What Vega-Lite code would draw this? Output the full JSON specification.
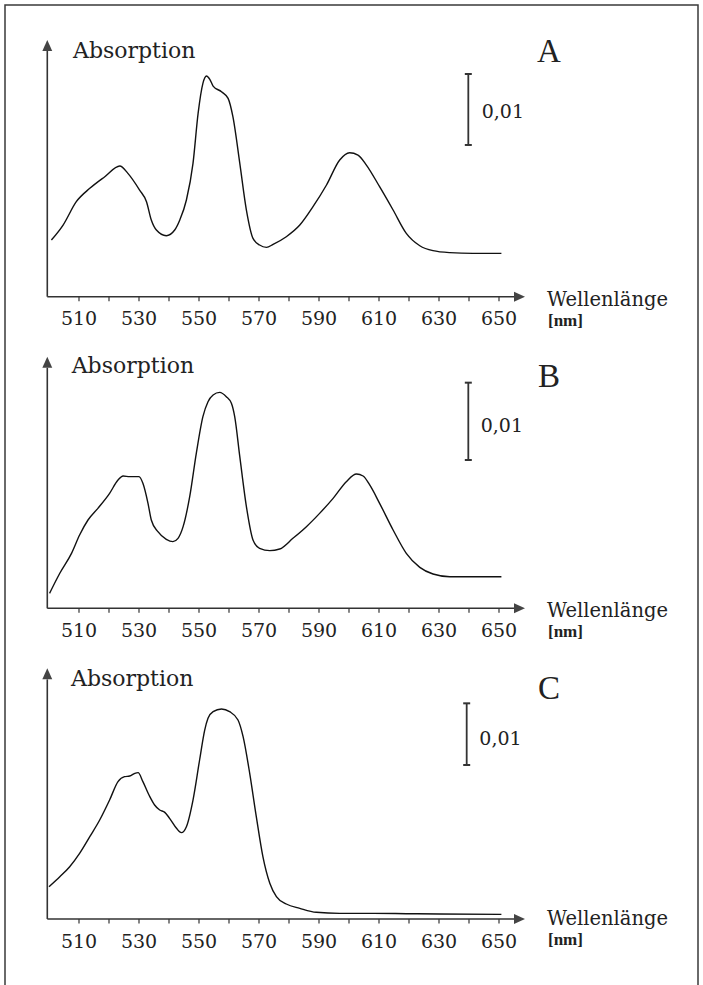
{
  "$schema": "https://vega.github.io/schema/vega-lite/v6.json",
  "autosize": {"type": "fit", "contains": "padding"},
  "width": 703,
  "height": 985,
  "padding": {"left": 5, "top": 5, "right": 5, "bottom": -2},
  "background": "white",
  "config": {
    "view": {"stroke": "#3a3a3a", "strokeWidth": 1.5},
    "text": {"font": "DejaVu Serif", "color": "#222"}
  },
  "datasets": {
    "specA": [
      {"nm": 500.8, "abs": 0.00798}, {"nm": 504.7, "abs": 0.01009}, {"nm": 509.1, "abs": 0.01338},
      {"nm": 513.6, "abs": 0.01526}, {"nm": 518.6, "abs": 0.0169}, {"nm": 523.6, "abs": 0.0184},
      {"nm": 526.3, "abs": 0.01737}, {"nm": 530.2, "abs": 0.01502}, {"nm": 532.5, "abs": 0.01338},
      {"nm": 534.1, "abs": 0.0108}, {"nm": 535.8, "abs": 0.00939}, {"nm": 539.1, "abs": 0.00859},
      {"nm": 541.9, "abs": 0.00939}, {"nm": 543.6, "abs": 0.0108}, {"nm": 545.8, "abs": 0.01362},
      {"nm": 548.0, "abs": 0.01878}, {"nm": 549.7, "abs": 0.02582}, {"nm": 551.3, "abs": 0.03005},
      {"nm": 552.5, "abs": 0.03108}, {"nm": 553.6, "abs": 0.03061}, {"nm": 554.7, "abs": 0.02967},
      {"nm": 557.5, "abs": 0.02887}, {"nm": 559.7, "abs": 0.02793}, {"nm": 561.3, "abs": 0.02535},
      {"nm": 563.6, "abs": 0.01878}, {"nm": 565.8, "abs": 0.01221}, {"nm": 568.0, "abs": 0.00822},
      {"nm": 570.2, "abs": 0.00728}, {"nm": 572.5, "abs": 0.00695}, {"nm": 574.7, "abs": 0.00737},
      {"nm": 579.1, "abs": 0.00845}, {"nm": 583.6, "abs": 0.01009}, {"nm": 588.0, "abs": 0.01268},
      {"nm": 592.5, "abs": 0.01573}, {"nm": 596.9, "abs": 0.01925}, {"nm": 600.2, "abs": 0.02028},
      {"nm": 603.0, "abs": 0.01995}, {"nm": 605.8, "abs": 0.01854}, {"nm": 610.2, "abs": 0.01549},
      {"nm": 614.7, "abs": 0.01221}, {"nm": 619.1, "abs": 0.00892}, {"nm": 623.6, "abs": 0.00718},
      {"nm": 628.0, "abs": 0.00648}, {"nm": 633.6, "abs": 0.0062}, {"nm": 641.3, "abs": 0.0061},
      {"nm": 650.8, "abs": 0.0061}
    ],
    "specB": [
      {"nm": 500.2, "abs": 0.00194}, {"nm": 503.6, "abs": 0.00453}, {"nm": 507.5, "abs": 0.00711},
      {"nm": 510.2, "abs": 0.00948}, {"nm": 513.0, "abs": 0.01142}, {"nm": 516.3, "abs": 0.01293},
      {"nm": 520.2, "abs": 0.01487}, {"nm": 523.0, "abs": 0.01659}, {"nm": 524.7, "abs": 0.01711},
      {"nm": 526.9, "abs": 0.01703}, {"nm": 530.0, "abs": 0.01703}, {"nm": 531.3, "abs": 0.01616},
      {"nm": 533.0, "abs": 0.01358}, {"nm": 534.1, "abs": 0.01142}, {"nm": 536.3, "abs": 0.00991},
      {"nm": 539.1, "abs": 0.00892}, {"nm": 541.3, "abs": 0.00862}, {"nm": 543.0, "abs": 0.00905},
      {"nm": 544.7, "abs": 0.01056}, {"nm": 546.9, "abs": 0.01444}, {"nm": 549.1, "abs": 0.02004},
      {"nm": 551.3, "abs": 0.02478}, {"nm": 553.0, "abs": 0.02672}, {"nm": 554.7, "abs": 0.02759},
      {"nm": 556.9, "abs": 0.02793}, {"nm": 559.1, "abs": 0.02737}, {"nm": 560.8, "abs": 0.02651},
      {"nm": 561.9, "abs": 0.02478}, {"nm": 563.6, "abs": 0.01961}, {"nm": 565.8, "abs": 0.01315},
      {"nm": 568.0, "abs": 0.00884}, {"nm": 570.2, "abs": 0.00776}, {"nm": 573.6, "abs": 0.00746},
      {"nm": 576.9, "abs": 0.00767}, {"nm": 581.3, "abs": 0.00905}, {"nm": 585.8, "abs": 0.01056},
      {"nm": 590.2, "abs": 0.01228}, {"nm": 594.7, "abs": 0.01422}, {"nm": 599.1, "abs": 0.01638},
      {"nm": 602.5, "abs": 0.01737}, {"nm": 604.7, "abs": 0.01711}, {"nm": 606.9, "abs": 0.01595},
      {"nm": 610.2, "abs": 0.01358}, {"nm": 614.7, "abs": 0.01013}, {"nm": 619.1, "abs": 0.00711},
      {"nm": 623.6, "abs": 0.0053}, {"nm": 628.0, "abs": 0.00444}, {"nm": 633.6, "abs": 0.00409},
      {"nm": 641.3, "abs": 0.00409}, {"nm": 650.8, "abs": 0.00409}
    ],
    "specC": [
      {"nm": 500.0, "abs": 0.00524}, {"nm": 503.6, "abs": 0.00686}, {"nm": 506.9, "abs": 0.00848},
      {"nm": 510.2, "abs": 0.01064}, {"nm": 513.6, "abs": 0.01335}, {"nm": 516.9, "abs": 0.01605},
      {"nm": 520.2, "abs": 0.01929}, {"nm": 523.0, "abs": 0.02227}, {"nm": 525.2, "abs": 0.02308},
      {"nm": 526.9, "abs": 0.02318}, {"nm": 528.6, "abs": 0.02362}, {"nm": 529.7, "abs": 0.02373},
      {"nm": 531.3, "abs": 0.02227}, {"nm": 533.6, "abs": 0.01983}, {"nm": 535.2, "abs": 0.01848},
      {"nm": 536.9, "abs": 0.01767}, {"nm": 538.6, "abs": 0.01729}, {"nm": 540.2, "abs": 0.01632},
      {"nm": 542.5, "abs": 0.0147}, {"nm": 544.1, "abs": 0.014}, {"nm": 545.8, "abs": 0.01497},
      {"nm": 548.0, "abs": 0.01929}, {"nm": 550.2, "abs": 0.02578}, {"nm": 551.9, "abs": 0.03064},
      {"nm": 553.0, "abs": 0.03254}, {"nm": 554.7, "abs": 0.03362}, {"nm": 557.5, "abs": 0.03405},
      {"nm": 560.2, "abs": 0.03362}, {"nm": 563.0, "abs": 0.03227}, {"nm": 564.7, "abs": 0.02956},
      {"nm": 566.9, "abs": 0.02362}, {"nm": 569.1, "abs": 0.01659}, {"nm": 571.3, "abs": 0.0101},
      {"nm": 573.6, "abs": 0.00578}, {"nm": 575.8, "abs": 0.00362}, {"nm": 579.1, "abs": 0.00243},
      {"nm": 583.6, "abs": 0.00173}, {"nm": 589.1, "abs": 0.00108}, {"nm": 596.9, "abs": 0.00091},
      {"nm": 608.0, "abs": 0.00091}, {"nm": 619.1, "abs": 0.00086}, {"nm": 630.2, "abs": 0.00081},
      {"nm": 650.8, "abs": 0.00075}
    ],
    "ticks": [
      {"nm": 510}, {"nm": 520}, {"nm": 530}, {"nm": 540}, {"nm": 550}, {"nm": 560}, {"nm": 570},
      {"nm": 580}, {"nm": 590}, {"nm": 600}, {"nm": 610}, {"nm": 620}, {"nm": 630}, {"nm": 640}, {"nm": 650}
    ],
    "labels": [
      {"nm": 510}, {"nm": 530}, {"nm": 550}, {"nm": 570}, {"nm": 590}, {"nm": 610}, {"nm": 630}, {"nm": 650}
    ],
    "one": [{}]
  },
  "resolve": {"scale": {"y": "independent"}},
  "layer": [
    {
      "layer": [
        {"data": {"name": "specA"}, "mark": {"type": "line", "color": "#111", "strokeWidth": 1.4, "interpolate": "monotone"},
         "encoding": {"x": {"field": "nm", "type": "quantitative", "axis": null, "scale": {"domain": [485.333, 716.333], "zero": false, "nice": false}},
                      "y": {"field": "abs", "type": "quantitative", "axis": null, "scale": {"domain": [-0.09723, 0.041085], "zero": false, "nice": false}}}},
        {"data": {"name": "one"}, "mark": {"type": "rule", "color": "#333", "strokeWidth": 1.6},
         "encoding": {"x": {"datum": 499.43, "type": "quantitative"}, "y": {"datum": 0, "type": "quantitative"}, "y2": {"datum": 0.0347}}},
        {"data": {"name": "one"}, "mark": {"type": "rule", "color": "#333", "strokeWidth": 1.6},
         "encoding": {"x": {"datum": 499.43, "type": "quantitative"}, "x2": {"datum": 655.67}, "y": {"datum": 0, "type": "quantitative"}}},
        {"data": {"name": "one"}, "mark": {"type": "point", "shape": "M1,0L-1,-0.9L-1,0.9Z", "size": 121, "filled": true, "color": "#444", "opacity": 1},
         "encoding": {"x": {"datum": 656.83, "type": "quantitative"}, "y": {"datum": 0, "type": "quantitative"}}},
        {"data": {"name": "one"}, "mark": {"type": "point", "shape": "M0,-1L0.9,1L-0.9,1Z", "size": 121, "filled": true, "color": "#444", "opacity": 1},
         "encoding": {"x": {"datum": 499.43, "type": "quantitative"}, "y": {"datum": 0.03538, "type": "quantitative"}}},
        {"data": {"name": "ticks"}, "mark": {"type": "rule", "color": "#333", "strokeWidth": 1.2, "y2Offset": 4.5},
         "encoding": {"x": {"field": "nm", "type": "quantitative"}, "y": {"datum": 0, "type": "quantitative"}, "y2": {"datum": 0}}},
        {"data": {"name": "labels"}, "mark": {"type": "text", "font": "DejaVu Serif", "fontSize": 19, "align": "center", "baseline": "alphabetic", "dy": 28.5},
         "encoding": {"x": {"field": "nm", "type": "quantitative"}, "y": {"datum": 0, "type": "quantitative"}, "text": {"field": "nm", "type": "quantitative", "format": "d"}}},
        {"data": {"name": "one"}, "mark": {"type": "text", "text": "Absorption", "font": "DejaVu Serif", "fontSize": 22, "align": "left", "baseline": "alphabetic"},
         "encoding": {"x": {"datum": 508.0, "type": "quantitative"}, "y": {"datum": 0.03355, "type": "quantitative"}}},
        {"data": {"name": "one"}, "mark": {"type": "text", "text": "A", "font": "Liberation Serif", "fontSize": 33, "align": "center", "baseline": "alphabetic"},
         "encoding": {"x": {"datum": 666.67, "type": "quantitative"}, "y": {"datum": 0.03306, "type": "quantitative"}}},
        {"data": {"name": "one"}, "mark": {"type": "rule", "color": "#333", "strokeWidth": 1.8},
         "encoding": {"x": {"datum": 639.77, "type": "quantitative"}, "y": {"datum": 0.02137, "type": "quantitative"}, "y2": {"datum": 0.03137}}},
        {"data": {"name": "one"}, "mark": {"type": "tick", "orient": "horizontal", "size": 7, "thickness": 2, "color": "#333", "opacity": 1},
         "encoding": {"x": {"datum": 639.77, "type": "quantitative"}, "y": {"datum": 0.02137, "type": "quantitative"}}},
        {"data": {"name": "one"}, "mark": {"type": "tick", "orient": "horizontal", "size": 7, "thickness": 2, "color": "#333", "opacity": 1},
         "encoding": {"x": {"datum": 639.77, "type": "quantitative"}, "y": {"datum": 0.03137, "type": "quantitative"}}},
        {"data": {"name": "one"}, "mark": {"type": "text", "text": "0,01", "font": "DejaVu Serif", "fontSize": 19, "align": "left", "baseline": "middle"},
         "encoding": {"x": {"datum": 644.23, "type": "quantitative"}, "y": {"datum": 0.02606, "type": "quantitative"}}},
        {"data": {"name": "one"}, "mark": {"type": "text", "text": "Wellenlänge", "font": "DejaVu Serif", "fontSize": 19.5, "align": "left", "baseline": "alphabetic", "dy": 9},
         "encoding": {"x": {"datum": 666.0, "type": "quantitative"}, "y": {"datum": 0, "type": "quantitative"}}},
        {"data": {"name": "one"}, "mark": {"type": "text", "text": "[nm]", "font": "Liberation Serif", "fontWeight": "bold", "fontSize": 17, "align": "left", "baseline": "alphabetic", "dy": 29},
         "encoding": {"x": {"datum": 666.33, "type": "quantitative"}, "y": {"datum": 0, "type": "quantitative"}}}
      ]
    },
    {
      "layer": [
        {"data": {"name": "specB"}, "mark": {"type": "line", "color": "#111", "strokeWidth": 1.4, "interpolate": "monotone"},
         "encoding": {"x": {"field": "nm", "type": "quantitative", "axis": null, "scale": {"domain": [485.333, 716.333], "zero": false, "nice": false}},
                      "y": {"field": "abs", "type": "quantitative", "axis": null, "scale": {"domain": [-0.04897, 0.07802], "zero": false, "nice": false}}}},
        {"data": {"name": "one"}, "mark": {"type": "rule", "color": "#333", "strokeWidth": 1.6},
         "encoding": {"x": {"datum": 499.43, "type": "quantitative"}, "y": {"datum": 0, "type": "quantitative"}, "y2": {"datum": 0.03111}}},
        {"data": {"name": "one"}, "mark": {"type": "rule", "color": "#333", "strokeWidth": 1.6},
         "encoding": {"x": {"datum": 499.43, "type": "quantitative"}, "x2": {"datum": 655.67}, "y": {"datum": 0, "type": "quantitative"}}},
        {"data": {"name": "one"}, "mark": {"type": "point", "shape": "M1,0L-1,-0.9L-1,0.9Z", "size": 121, "filled": true, "color": "#444", "opacity": 1},
         "encoding": {"x": {"datum": 656.83, "type": "quantitative"}, "y": {"datum": 0, "type": "quantitative"}}},
        {"data": {"name": "one"}, "mark": {"type": "point", "shape": "M0,-1L0.9,1L-0.9,1Z", "size": 121, "filled": true, "color": "#444", "opacity": 1},
         "encoding": {"x": {"datum": 499.43, "type": "quantitative"}, "y": {"datum": 0.03183, "type": "quantitative"}}},
        {"data": {"name": "ticks"}, "mark": {"type": "rule", "color": "#333", "strokeWidth": 1.2, "y2Offset": 4.5},
         "encoding": {"x": {"field": "nm", "type": "quantitative"}, "y": {"datum": 0, "type": "quantitative"}, "y2": {"datum": 0}}},
        {"data": {"name": "labels"}, "mark": {"type": "text", "font": "DejaVu Serif", "fontSize": 19, "align": "center", "baseline": "alphabetic", "dy": 28.5},
         "encoding": {"x": {"field": "nm", "type": "quantitative"}, "y": {"datum": 0, "type": "quantitative"}, "text": {"field": "nm", "type": "quantitative", "format": "d"}}},
        {"data": {"name": "one"}, "mark": {"type": "text", "text": "Absorption", "font": "DejaVu Serif", "fontSize": 22, "align": "left", "baseline": "alphabetic"},
         "encoding": {"x": {"datum": 507.57, "type": "quantitative"}, "y": {"datum": 0.03047, "type": "quantitative"}}},
        {"data": {"name": "one"}, "mark": {"type": "text", "text": "B", "font": "Liberation Serif", "fontSize": 33, "align": "center", "baseline": "alphabetic"},
         "encoding": {"x": {"datum": 666.67, "type": "quantitative"}, "y": {"datum": 0.02862, "type": "quantitative"}}},
        {"data": {"name": "one"}, "mark": {"type": "rule", "color": "#333", "strokeWidth": 1.8},
         "encoding": {"x": {"datum": 639.77, "type": "quantitative"}, "y": {"datum": 0.01918, "type": "quantitative"}, "y2": {"datum": 0.02918}}},
        {"data": {"name": "one"}, "mark": {"type": "tick", "orient": "horizontal", "size": 7, "thickness": 2, "color": "#333", "opacity": 1},
         "encoding": {"x": {"datum": 639.77, "type": "quantitative"}, "y": {"datum": 0.01918, "type": "quantitative"}}},
        {"data": {"name": "one"}, "mark": {"type": "tick", "orient": "horizontal", "size": 7, "thickness": 2, "color": "#333", "opacity": 1},
         "encoding": {"x": {"datum": 639.77, "type": "quantitative"}, "y": {"datum": 0.02918, "type": "quantitative"}}},
        {"data": {"name": "one"}, "mark": {"type": "text", "text": "0,01", "font": "DejaVu Serif", "fontSize": 19, "align": "left", "baseline": "middle"},
         "encoding": {"x": {"datum": 643.9, "type": "quantitative"}, "y": {"datum": 0.02357, "type": "quantitative"}}},
        {"data": {"name": "one"}, "mark": {"type": "text", "text": "Wellenlänge", "font": "DejaVu Serif", "fontSize": 19.5, "align": "left", "baseline": "alphabetic", "dy": 9},
         "encoding": {"x": {"datum": 666.0, "type": "quantitative"}, "y": {"datum": 0, "type": "quantitative"}}},
        {"data": {"name": "one"}, "mark": {"type": "text", "text": "[nm]", "font": "Liberation Serif", "fontWeight": "bold", "fontSize": 17, "align": "left", "baseline": "alphabetic", "dy": 29},
         "encoding": {"x": {"datum": 666.33, "type": "quantitative"}, "y": {"datum": 0, "type": "quantitative"}}}
      ]
    },
    {
      "layer": [
        {"data": {"name": "specC"}, "mark": {"type": "line", "color": "#111", "strokeWidth": 1.4, "interpolate": "monotone"},
         "encoding": {"x": {"field": "nm", "type": "quantitative", "axis": null, "scale": {"domain": [485.333, 716.333], "zero": false, "nice": false}},
                      "y": {"field": "abs", "type": "quantitative", "axis": null, "scale": {"domain": [-0.01103, 0.14821], "zero": false, "nice": false}}}},
        {"data": {"name": "one"}, "mark": {"type": "rule", "color": "#333", "strokeWidth": 1.6},
         "encoding": {"x": {"datum": 499.43, "type": "quantitative"}, "y": {"datum": 0, "type": "quantitative"}, "y2": {"datum": 0.03886}}},
        {"data": {"name": "one"}, "mark": {"type": "rule", "color": "#333", "strokeWidth": 1.6},
         "encoding": {"x": {"datum": 499.43, "type": "quantitative"}, "x2": {"datum": 655.67}, "y": {"datum": 0, "type": "quantitative"}}},
        {"data": {"name": "one"}, "mark": {"type": "point", "shape": "M1,0L-1,-0.9L-1,0.9Z", "size": 121, "filled": true, "color": "#444", "opacity": 1},
         "encoding": {"x": {"datum": 656.83, "type": "quantitative"}, "y": {"datum": 0, "type": "quantitative"}}},
        {"data": {"name": "one"}, "mark": {"type": "point", "shape": "M0,-1L0.9,1L-0.9,1Z", "size": 121, "filled": true, "color": "#444", "opacity": 1},
         "encoding": {"x": {"datum": 499.43, "type": "quantitative"}, "y": {"datum": 0.03976, "type": "quantitative"}}},
        {"data": {"name": "ticks"}, "mark": {"type": "rule", "color": "#333", "strokeWidth": 1.2, "y2Offset": 4.5},
         "encoding": {"x": {"field": "nm", "type": "quantitative"}, "y": {"datum": 0, "type": "quantitative"}, "y2": {"datum": 0}}},
        {"data": {"name": "labels"}, "mark": {"type": "text", "font": "DejaVu Serif", "fontSize": 19, "align": "center", "baseline": "alphabetic", "dy": 29},
         "encoding": {"x": {"field": "nm", "type": "quantitative"}, "y": {"datum": 0, "type": "quantitative"}, "text": {"field": "nm", "type": "quantitative", "format": "d"}}},
        {"data": {"name": "one"}, "mark": {"type": "text", "text": "Absorption", "font": "DejaVu Serif", "fontSize": 22, "align": "left", "baseline": "alphabetic"},
         "encoding": {"x": {"datum": 507.33, "type": "quantitative"}, "y": {"datum": 0.03778, "type": "quantitative"}}},
        {"data": {"name": "one"}, "mark": {"type": "text", "text": "C", "font": "Liberation Serif", "fontSize": 33, "align": "center", "baseline": "alphabetic"},
         "encoding": {"x": {"datum": 666.67, "type": "quantitative"}, "y": {"datum": 0.03567, "type": "quantitative"}}},
        {"data": {"name": "one"}, "mark": {"type": "rule", "color": "#333", "strokeWidth": 1.8},
         "encoding": {"x": {"datum": 639.23, "type": "quantitative"}, "y": {"datum": 0.02497, "type": "quantitative"}, "y2": {"datum": 0.03497}}},
        {"data": {"name": "one"}, "mark": {"type": "tick", "orient": "horizontal", "size": 7, "thickness": 2, "color": "#333", "opacity": 1},
         "encoding": {"x": {"datum": 639.23, "type": "quantitative"}, "y": {"datum": 0.02497, "type": "quantitative"}}},
        {"data": {"name": "one"}, "mark": {"type": "tick", "orient": "horizontal", "size": 7, "thickness": 2, "color": "#333", "opacity": 1},
         "encoding": {"x": {"datum": 639.23, "type": "quantitative"}, "y": {"datum": 0.03497, "type": "quantitative"}}},
        {"data": {"name": "one"}, "mark": {"type": "text", "text": "0,01", "font": "DejaVu Serif", "fontSize": 19, "align": "left", "baseline": "middle"},
         "encoding": {"x": {"datum": 643.43, "type": "quantitative"}, "y": {"datum": 0.02913, "type": "quantitative"}}},
        {"data": {"name": "one"}, "mark": {"type": "text", "text": "Wellenlänge", "font": "DejaVu Serif", "fontSize": 19.5, "align": "left", "baseline": "alphabetic", "dy": 6},
         "encoding": {"x": {"datum": 666.0, "type": "quantitative"}, "y": {"datum": 0, "type": "quantitative"}}},
        {"data": {"name": "one"}, "mark": {"type": "text", "text": "[nm]", "font": "Liberation Serif", "fontWeight": "bold", "fontSize": 17, "align": "left", "baseline": "alphabetic", "dy": 26},
         "encoding": {"x": {"datum": 666.33, "type": "quantitative"}, "y": {"datum": 0, "type": "quantitative"}}}
      ]
    }
  ]
}
